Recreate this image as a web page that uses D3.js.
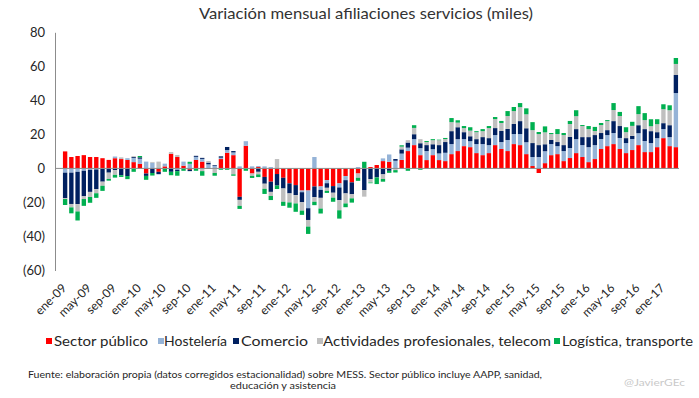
<!DOCTYPE html>
<html>
<head>
<meta charset="utf-8">
<script src="https://cdn.jsdelivr.net/npm/d3@7"></script>
<style>
    body { margin: 0; background: #fff; }
    #afiliaciones-container { width: 699px; height: 398px; }
    text { font-family: "Century Gothic", Lato, "Open Sans", sans-serif; }
</style>
</head>
<body>
<div id="afiliaciones-container"></div>
<script>
const selector = "#afiliaciones-container";
const width = 699;
const height = 398;

// months ene-09 .. mar-17
const mesAbbr = ["ene", "feb", "mar", "abr", "may", "jun", "jul", "ago", "sep", "oct", "nov", "dic"];
const years = ["09", "10", "11", "12", "13", "14", "15", "16", "17"];
const monthsInLastYear = 3; // up to mar-17

const seriesNames = [
    "Sector público", "Hostelería", "Comercio",
    "Actividades profesionales, telecom", "Logística, transporte",
];
const seriesColors = ["#ff0000", "#95b3d7", "#002060", "#bfbfbf", "#00b050"];

const sectorPublico = [
    10, 6.7, 7.3, 7.8, 6.7, 6.7, 6, 5, 6, 5.5,
    5, 3.7, 2.7, -3, 0, -2, 1.2, 8.6, 6.7, 1.6,
    -0.8, 5, 4, 0, 0, 5.5, 9.2, 7.8, -16.7, 13.3,
    -3, 0.8, -5, -7.8, -3.3, -5.5, -8.8, -9.8, -13, -13,
    -10.6, -10.6, -6.9, -10.4, -8.8, -4.5, -8.2, -3, 0, 0.8,
    2, 4.3, 3.9, 0, 5, 10.2, 13.7, 7.8, 4.9, 7.8,
    4.9, 4.3, 8.4, 10.2, 13.1, 12.5, 9, 7.8, 9, 13.7,
    11.4, 10.2, 14.3, 13.7, 8.4, 1.4, -2.7, 3.1, 7.8, 8.4,
    4.3, 6.1, 9, 6.7, 3.7, 5.5, 11.4, 13.1, 14.3, 11.4,
    9, 10.8, 13.7, 9.6, 9.6, 12.5, 17.8, 13.1, 12.5,
];
const hosteleria = [
    -2.5, -2.5, -2, -1.4, -0.8, -0.6, 0, 0, 1, 0,
    1, 2.5, 3, 4, 3.3, 0, 1.6, 0, -0.8, 2.4,
    2.7, 1.8, 1.6, 2.4, 1.6, 0.8, 1.6, 1.6, 1.2, 2.7,
    1.2, 0.6, 1.2, 0.8, 0, 0, 0, 0, -1, -10.4,
    6.7, -2, -1.8, 0, -2.4, -2.4, 0, 0.8, 0, 0,
    0, 1.6, 4.3, 4.5, 3.7, 2, 3.5, 4.1, 5.3, 3.5,
    3.9, 4.9, 5.9, 7, 4.1, 3.5, 5.3, 6.5, 4.7, 5.9,
    4.1, 6.5, 5.9, 6.5, 7, 5.3, 6.7, 7, 6.5, 4.7,
    5.9, 5.9, 8.2, 7, 8.8, 8.2, 5.9, 6.5, 6.5, 6.5,
    5.9, 6.5, 7, 6.5, 5.3, 5.3, 5.3, 5.3, 31.8,
];
const comercio = [
    -15, -18.4, -19, -15, -13, -11.6, -7.8, -2.5, -1, -4,
    -4.5, 0.5, 0.8, -1.4, -2.7, -1.4, 0, -2, -0.8, 0,
    -0.8, 0.6, 0.6, 1, 0.4, 0.8, 1.8, 0.8, -1.8, 0,
    0, -2, -4, -6, -6.8, -6.3, -5.9, -5.9, -5.9, -6.9,
    -6.3, -4.7, -2.7, -3.9, -7.5, -7.8, -7, 0, -12.7, -6.3,
    -5.3, -3.5, -1.4, 1, 2.5, 3, 2.9, 2.9, 3.5, 2.9,
    4.9, 6.3, 7.6, 7, 4.1, 2.9, 2.9, 4.1, 4.1, 4.1,
    6.5, 6.5, 5.9, 7.6, 8.2, 8.2, 7, 4.1, 2.4, 2.4,
    3.5, 6.5, 5.9, 4.7, 5.9, 5.9, 3.5, 2.9, 7, 7,
    2.9, 1.8, 4.7, 7, 7, 3.5, 3.5, 7, 10.6,
];
const actividades = [
    -0.5, -2, -4.3, -1.6, -3, -2.4, -2.4, -3.7, -2.8, 1,
    0, 0.5, 0, 0, 0.5, 4, 0, 1, 1.2, 0,
    0, 0, -1.6, 1, -2.7, 0, 0, -3.5, -3.5, 0,
    -1.4, -1.5, -3, -2.4, 5.5, -7.8, -5.3, -4.9, -4.9, -3.9,
    -2.7, -6.3, -1.8, -2.9, -5.9, -5.9, -2.4, -2.5, -3.9, -2,
    0, -2.7, 0, -1, 1.6, 1.4, 3.7, 2.4, 1.8, 2.4,
    2.9, 1.8, 5.3, 2.7, 2.4, 3.3, 4.1, 3.5, 5.9, 5.3,
    4.7, 7.6, 7.6, 8.2, 8.2, 7.6, 6.5, 7, 3.5, 4.7,
    5.9, 7.6, 7.6, 6.5, 4.7, 2.4, 4.7, 5.3, 6.5, 5.9,
    3.5, 5.9, 6.5, 5.3, 2.9, 4.7, 8.2, 8.8, 6.5,
];
const logistica = [
    -3.5, -3.5, -5.3, -4, -3.4, -2.7, -3, -1, -1.6, -1,
    -1.8, -2, 0.8, -2.3, -1.5, 0, -2, -2, -2.7, -1.4,
    1.2, -1.4, -2.7, -0.3, -1.6, -0.8, -0.8, -0.8, -1.8, -1.4,
    -1.2, -1.6, -3, -2.4, -2, -2.4, -3.1, -4.9, -2.5, -4.3,
    -2, -2.9, -1.2, -2.4, -4.9, -2.2, -2.5, -1.8, 3.9, -0.4,
    -3.9, -1.6, -1.2, -1.4, 0.8, -1.4, 1.6, -0.8, 0.6, 0.6,
    0.3, 0.6, 2.4, 1.4, 1.2, 2, 0.6, 1.2, 1.2, 1.2,
    1.2, 2.9, 2.4, 2.4, 3.5, 4.7, 1.2, 3.5, 0.6, 2.9,
    1.2, 1.8, 3.5, 0.6, 1.8, 2.4, 1.2, 0.6, 4.1, 2.4,
    2.9, 2.4, 4.7, 4.1, 4.1, 2.9, 2.9, 2.9, 3.5,
];

const yTicks = [-60, -40, -20, 0, 20, 40, 60, 80];

const title = "Variación mensual afiliaciones  servicios (miles)";
const sourceLines = [
    "Fuente: elaboración propia  (datos corregidos estacionalidad) sobre MESS. Sector público  incluye AAPP, sanidad,",
    "educación  y asistencia",
];
const credit = "@JavierGEc";

// legend slots: marker x, text start, text width
const legendSlots = [
    { box: 46, text: 54, len: 94 },
    { box: 158, text: 164, len: 63 },
    { box: 233, text: 241, len: 67 },
    { box: 317, text: 323, len: 228 },
    { box: 554, text: 562, len: 131 },
];

function buildMonths() {
    const out = [];
    years.forEach((yy, yi) => {
        const n = yi === years.length - 1 ? monthsInLastYear : 12;
        for (let m = 0; m < n; m++) out.push(`${mesAbbr[m]}-${yy}`);
    });
    return out;
}

function drawChart(months, table) {
    const svg = d3.select(selector)
        .append("svg")
        .attr("width", width)
        .attr("height", height);

    svg.append("text")
        .attr("x", 366)
        .attr("y", 19)
        .attr("text-anchor", "middle")
        .attr("font-size", 15)
        .attr("fill", "#333")
        .attr("textLength", 334)
        .attr("lengthAdjust", "spacingAndGlyphs")
        .text(title);

    // Y scale
    const y = d3.scaleLinear()
        .domain([-60, 80])
        .range([270.5, 32.3]);

    // X scale
    const x = d3.scaleBand()
        .domain(months)
        .range([62, 679])
        .paddingInner(0.3)
        .paddingOuter(0.15);

    const yAxis = svg.append("g")
        .attr("transform", "translate(55,0)")
        .call(d3.axisLeft(y).tickValues(yTicks).tickSize(0).tickPadding(10)
            .tickFormat(d => d < 0 ? `(${-d})` : d));
    yAxis.select(".domain").attr("stroke", "#8c8c8c");
    yAxis.selectAll("text")
        .attr("font-size", 13)
        .attr("font-family", "\"Century Gothic\", Lato, \"Open Sans\", sans-serif")
        .attr("fill", "#262626");

    // stacked bars, negatives stack downward
    const stack = d3.stack()
        .keys(seriesNames)
        .offset(d3.stackOffsetDiverging);
    const layers = stack(table);

    svg.append("g")
        .selectAll("g")
        .data(layers)
        .join("g")
        .attr("fill", (d, i) => seriesColors[i])
        .selectAll("rect")
        .data(d => d)
        .join("rect")
        .attr("x", d => x(d.data.month))
        .attr("width", x.bandwidth())
        .attr("y", d => y(Math.max(d[0], d[1])))
        .attr("height", d => Math.abs(y(d[0]) - y(d[1])));

    // zero line
    svg.append("line")
        .attr("x1", 55)
        .attr("x2", 679)
        .attr("y1", y(0))
        .attr("y2", y(0))
        .attr("stroke", "#8c8c8c")
        .attr("stroke-width", 1);

    // month labels, every fourth month
    svg.append("g")
        .selectAll("text")
        .data(months.filter((m, i) => i % 4 === 0))
        .join("text")
        .attr("transform", m => `translate(${x(m) + x.bandwidth() / 2 - 4},283) rotate(-45)`)
        .attr("text-anchor", "end")
        .attr("dy", "0.7em")
        .attr("font-size", 12)
        .attr("fill", "#262626")
        .text(m => m);

    // legend
    const legend = svg.append("g");
    legendSlots.forEach((s, i) => {
        legend.append("rect")
            .attr("x", s.box)
            .attr("y", 338)
            .attr("width", 6)
            .attr("height", 6)
            .attr("fill", seriesColors[i]);
        legend.append("text")
            .attr("x", s.text)
            .attr("y", 345.5)
            .attr("font-size", 14)
            .attr("fill", "#262626")
            .attr("textLength", s.len)
            .attr("lengthAdjust", "spacingAndGlyphs")
            .text(seriesNames[i]);
    });

    // source note
    svg.append("text")
        .attr("x", 28)
        .attr("y", 378)
        .attr("font-size", 8.5)
        .attr("fill", "#262626")
        .attr("textLength", 514)
        .attr("lengthAdjust", "spacingAndGlyphs")
        .text(sourceLines[0]);
    svg.append("text")
        .attr("x", 230)
        .attr("y", 389)
        .attr("font-size", 8.5)
        .attr("fill", "#262626")
        .attr("textLength", 106)
        .attr("lengthAdjust", "spacingAndGlyphs")
        .text(sourceLines[1]);

    svg.append("text")
        .attr("x", 624)
        .attr("y", 386)
        .attr("font-size", 10)
        .attr("fill", "#c9c9c9")
        .attr("textLength", 61)
        .attr("lengthAdjust", "spacingAndGlyphs")
        .text(credit);
}

function initChart() {
    const months = buildMonths();
    const table = months.map((month, i) => ({
        month: month,
        [seriesNames[0]]: sectorPublico[i],
        [seriesNames[1]]: hosteleria[i],
        [seriesNames[2]]: comercio[i],
        [seriesNames[3]]: actividades[i],
        [seriesNames[4]]: logistica[i],
    }));
    drawChart(months, table);
}

initChart();
</script>
</body>
</html>
